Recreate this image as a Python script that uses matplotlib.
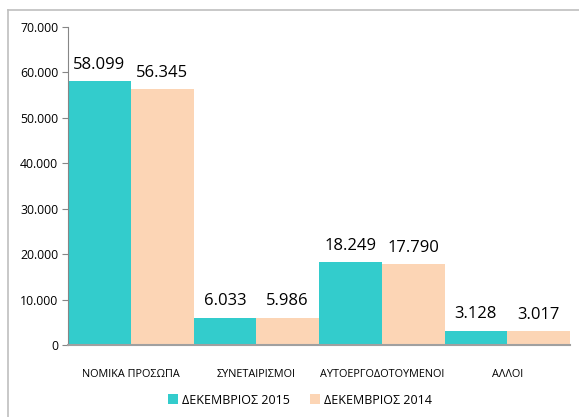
import matplotlib.pyplot as plt
import numpy as np
from matplotlib.lines import Line2D
from matplotlib.patches import Patch

categories = ["ΝΟΜΙΚΑ ΠΡΟΣΩΠΑ", "ΣΥΝΕΤΑΙΡΙΣΜΟΙ", "ΑΥΤΟΕΡΓΟΔΟΤΟΥΜΕΝΟΙ", "ΑΛΛΟΙ"]
dec_2015 = [58099, 6033, 18249, 3128]
dec_2014 = [56345, 5986, 17790, 3017]
series_names = ["ΔΕΚΕΜΒΡΙΟΣ 2015", "ΔΕΚΕΜΒΡΙΟΣ 2014"]
yticks = [0, 10000, 20000, 30000, 40000, 50000, 60000, 70000]

TEAL = "#33CCCC"
PEACH = "#FCD5B5"

plt.rcParams["font.family"] = ["Open Sans", "DejaVu Sans"]


def greek_fmt(v):
    return f"{v:,.0f}".replace(",", ".")


fig = plt.figure(figsize=(5.79, 4.17), dpi=100)
ax = fig.add_axes([68 / 579, 1 - 345 / 417, 502 / 579, 318 / 417])

x = np.arange(len(categories))
w = 0.5
b1 = ax.bar(x - w / 2, dec_2015, width=w, color=TEAL, label=series_names[0])
b2 = ax.bar(x + w / 2, dec_2014, width=w, color=PEACH, label=series_names[1])

for bars in (b1, b2):
    for bar in bars:
        ax.annotate(greek_fmt(bar.get_height()),
                    (bar.get_x() + bar.get_width() / 2, bar.get_height()),
                    xytext=(0, 6), textcoords="offset points",
                    ha="center", va="bottom", fontsize=12, color="black")

ax.set_xlim(-0.5, len(categories) - 0.5)
ax.set_ylim(0, 70000)
ax.set_yticks(yticks)
ax.set_yticklabels([greek_fmt(t) for t in yticks], fontsize=8.8)
ax.set_xticks(x)
ax.set_xticklabels(categories, fontsize=7.8)
ax.tick_params(axis="x", length=0, pad=17)
ax.tick_params(axis="y", length=4, color="#868686", pad=3)

for side in ("top", "right"):
    ax.spines[side].set_visible(False)
ax.spines["left"].set_color("#868686")
ax.spines["bottom"].set_color("#A0A0A0")
ax.spines["bottom"].set_linewidth(1.5)

handles = [Patch(facecolor=TEAL, label=series_names[0]),
           Patch(facecolor=PEACH, label=series_names[1])]
fig.legend(handles=handles, loc="center", bbox_to_anchor=(300 / 579, 1 - 400 / 417),
           ncol=2, frameon=False, fontsize=9, handlelength=0.8, handleheight=0.8,
           handletextpad=0.3, columnspacing=1.6)

# outer chart frame
fig.add_artist(Line2D([8 / 579, 8 / 579], [0, 1 - 10 / 417], transform=fig.transFigure,
                      color="#BFBFBF", lw=1.2))
fig.add_artist(Line2D([8 / 579, 1], [1 - 10 / 417, 1 - 10 / 417], transform=fig.transFigure,
                      color="#BFBFBF", lw=1.2))

fig.savefig("out.png", dpi=100)
